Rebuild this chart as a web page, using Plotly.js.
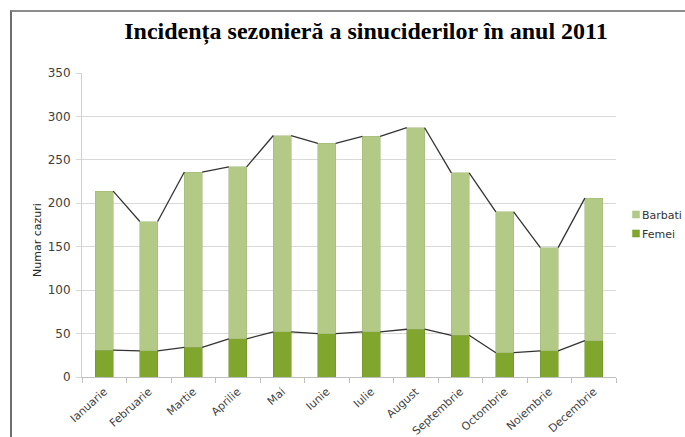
<!DOCTYPE html>
<html>
<head>
<meta charset="utf-8">
<script src="https://cdn.plot.ly/plotly-3.0.1.min.js"></script>
<style>
  html, body { margin: 0; padding: 0; background: #ffffff; }
  #wrap { position: relative; width: 685px; height: 437px; overflow: hidden; }
  #chart { width: 685px; height: 437px; }
  #frame { position: absolute; left: 10px; top: 10px; width: 690px; height: 440px;
           border-top: 2px solid #8c8c8c; border-left: 2px solid #6e6e6e; pointer-events: none; }
</style>
</head>
<body>
<div id="wrap">
  <div id="chart"></div>
  <div id="frame"></div>
</div>
<script>
const chartTitle = 'Incidența sezonieră a sinuciderilor în anul 2011';
const yTitle = 'Numar cazuri';
const months = ['Ianuarie','Februarie','Martie','Aprilie','Mai','Iunie','Iulie','August','Septembrie','Octombrie','Noiembrie','Decembrie'];
const femei = [31, 30, 34, 44, 52, 50, 52, 55, 48, 28, 30, 42];
const barbati = [183, 149, 202, 198, 226, 219, 225, 232, 187, 162, 119, 164];
const yTicks = [0, 50, 100, 150, 200, 250, 300, 350];

const barWidth = 0.4;

// series lines (Excel-style) connecting the right edge of one stack to the left edge of the next
function seriesLine(tops) {
  const xs = [], ys = [];
  for (let i = 0; i < tops.length - 1; i++) {
    xs.push(i + barWidth / 2, i + 1 - barWidth / 2, null);
    ys.push(tops[i], tops[i + 1], null);
  }
  return {xs, ys};
}
const totals = femei.map((f, i) => f + barbati[i]);
const lineF = seriesLine(femei);
const lineT = seriesLine(totals);

const font = 'DejaVu Sans, Verdana, sans-serif';

const traces = [
  {type: 'bar', name: 'Femei', x: months, y: femei,
   marker: {color: '#80a62e', line: {color: '#6d8f25', width: 0.5}}, hoverinfo: 'y'},
  {type: 'bar', name: 'Barbati', x: months, y: barbati,
   marker: {color: '#b3ca87', line: {color: '#9fb676', width: 0.5}}, hoverinfo: 'y'},
  {type: 'scatter', mode: 'lines', x: lineF.xs, y: lineF.ys, xaxis: 'x2', yaxis: 'y',
   line: {color: '#333333', width: 1.3}, showlegend: false, hoverinfo: 'skip', connectgaps: false},
  {type: 'scatter', mode: 'lines', x: lineT.xs, y: lineT.ys, xaxis: 'x2', yaxis: 'y',
   line: {color: '#333333', width: 1.3}, showlegend: false, hoverinfo: 'skip', connectgaps: false}
];

const layout = {
  width: 685, height: 437,
  margin: {l: 82, r: 69, t: 73, b: 60, pad: 0, autoexpand: false},
  paper_bgcolor: '#ffffff', plot_bgcolor: '#ffffff',
  barmode: 'stack', bargap: 0.6,
  showlegend: true,
  title: {text: chartTitle, x: 366 / 685, xanchor: 'center', y: 1 - 31 / 437, yanchor: 'middle',
          font: {family: 'Liberation Serif, Times New Roman, serif', size: 24, color: '#000000', weight: 'bold'}},
  font: {family: font, size: 11, color: '#404040'},
  xaxis: {type: 'category', tickson: 'boundaries', ticks: 'outside', ticklen: 5, tickcolor: '#bfbfbf',
          showline: true, linecolor: '#bfbfbf', linewidth: 1, showgrid: false, tickangle: -42,
          ticklabelstandoff: 3, automargin: false,
          tickfont: {family: font, size: 11, color: '#404040'}, range: [-0.5, 11.5], fixedrange: true},
  xaxis2: {overlaying: 'x', anchor: 'y', range: [-0.5, 11.5], visible: false, fixedrange: true},
  yaxis: {range: [0, 350], tickvals: yTicks, ticks: 'outside', ticklen: 5, tickcolor: '#d9d9d9',
          showgrid: true, gridcolor: '#d9d9d9', gridwidth: 1, showline: true, linecolor: '#d0d0d0',
          zeroline: false, ticklabelstandoff: 3, automargin: false,
          tickfont: {family: font, size: 12, color: '#404040'}, fixedrange: true},
  legend: {xref: 'container', yref: 'container', x: 588 / 685, xanchor: 'left', y: 1 - 200 / 437, yanchor: 'top',
           traceorder: 'reversed',
           font: {family: font, size: 11, color: '#333333'}, bgcolor: 'rgba(0,0,0,0)',
           itemwidth: 30, tracegroupgap: 0},
  annotations: [
    {text: yTitle, xref: 'paper', yref: 'paper', x: (37 - 82) / 534, y: (377 - 240) / 304,
     xanchor: 'center', yanchor: 'middle', textangle: -90, showarrow: false,
     font: {family: font, size: 11, color: '#262626'}}
  ]
};

Plotly.newPlot('chart', traces, layout, {displayModeBar: false, staticPlot: true}).then(function (gd) {
  // shrink legend swatches to the small squares of the original and move them next to the text
  gd.querySelectorAll('.legend .legendpoints path').forEach(function (p) {
    p.setAttribute('transform', 'translate(34,0) scale(0.6)');
  });
  // nudge the whole legend right, to where the original places it (near the right edge)
  const lg = gd.querySelector('g.legend');
  if (lg) {
    const t = lg.getAttribute('transform') || '';
    const m = t.match(/translate\(\s*([-\d.]+)[ ,]+([-\d.]+)\s*\)/);
    if (m) lg.setAttribute('transform', 'translate(' + (parseFloat(m[1]) + 14) + ',' + m[2] + ')');
  }
});
</script>
</body>
</html>
